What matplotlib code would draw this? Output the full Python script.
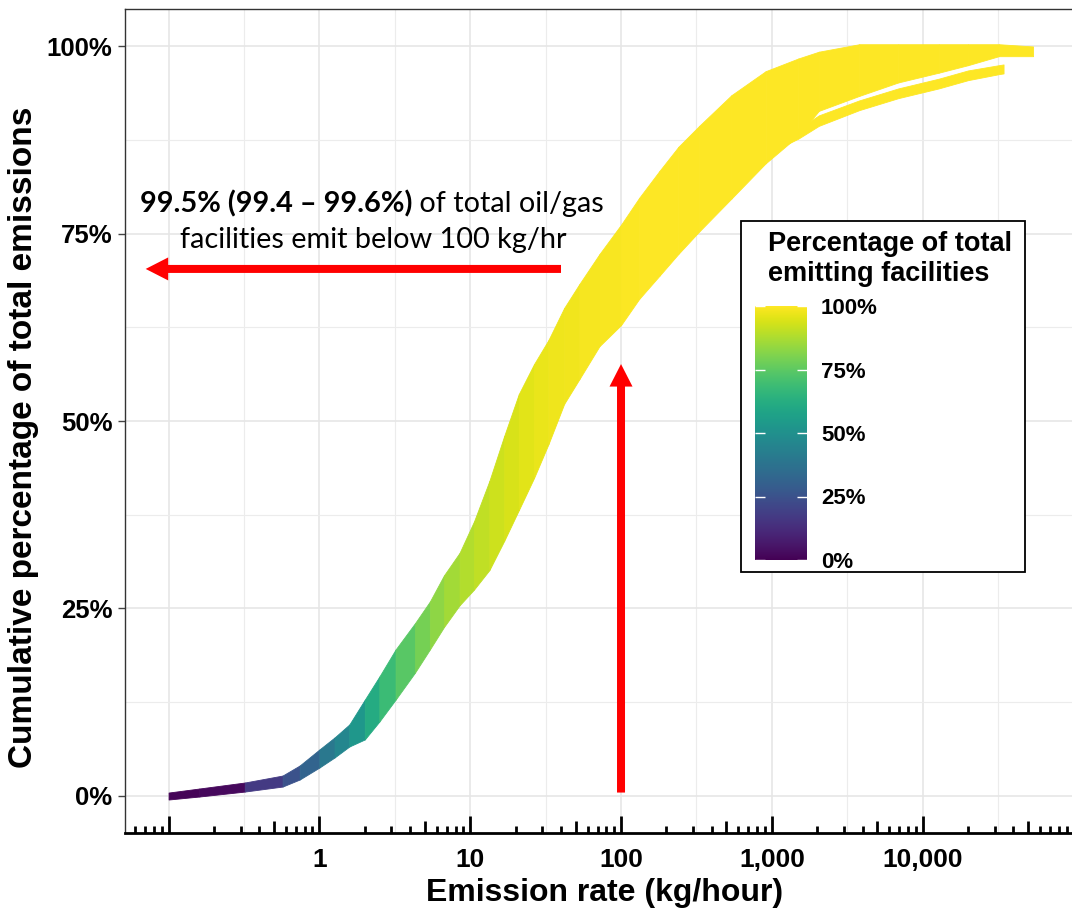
import numpy as np
import matplotlib.pyplot as plt
import matplotlib.ticker as mticker
from matplotlib.patches import Rectangle
from matplotlib.colors import Normalize
from matplotlib.cm import ScalarMappable

plt.rcParams['font.family'] = ['Liberation Sans', 'DejaVu Sans']

# === Band of cumulative curves (edges) ===
rate = [0.1, 0.16, 0.32, 0.57, 0.74, 1.0, 1.26, 1.58, 2.0, 2.5, 3.2, 4.3, 5.4, 6.7, 8.5,
        10.6, 13.4, 16.8, 21, 26.5, 33, 42, 53, 72, 100, 132, 180, 240, 330, 540, 910,
        1500, 2050, 3800, 6900, 12800, 20000, 32000, 54000]
band_top = [0.40, 0.94, 1.74, 2.67, 4.01, 6.15, 7.75, 9.49, 12.8, 15.9, 19.5, 23.0, 25.9,
            29.4, 32.4, 36.6, 42.0, 48.0, 53.6, 57.6, 60.8, 65.1, 68.3, 72.3, 76.2, 79.8,
            83.4, 86.6, 89.4, 93.5, 96.7, 98.4, 99.3, 100.3, 100.3, 100.3, 100.3, 100.3, 100.0]
band_bottom = [-0.53, -0.13, 0.53, 1.20, 2.14, 3.74, 5.08, 6.55, 7.49, 9.89, 12.8, 16.4,
               19.5, 22.5, 25.4, 27.5, 30.1, 34.0, 38.1, 42.4, 46.9, 52.3, 55.6, 60.0,
               62.8, 66.3, 69.4, 72.3, 75.3, 79.7, 84.4, 88.1, 91.4, 93.4, 95.2, 96.5,
               97.5, 98.7, 98.7]
# percentage of emitting facilities at each rate (colour of the curve)
facility_pct = [1, 2, 17, 25, 32, 40, 46, 53, 61, 68, 74, 79, 83, 86, 88.5, 90.5, 92.5,
                94, 95.5, 96.5, 97.3, 98, 98.5, 99, 99.5, 99.7, 99.8, 99.9, 100, 100,
                100, 100, 100, 100, 100, 100, 100, 100, 100]

# a few runs that split off below the main band at the high end
tail_rate = [1110, 1500, 2050, 3800, 6900, 12800, 20000, 32000, 34400]
tail_top = [88.0, 89.0, 90.8, 92.8, 94.4, 95.7, 96.8, 97.5, 97.6]
tail_bottom = [86.4, 87.7, 89.4, 91.5, 93.1, 94.4, 95.5, 96.3, 96.4]

x_ticks = [0.1, 1, 10, 100, 1000, 10000, 100000]
x_labels = ['', '1', '10', '100', '1,000', '10,000', '']
y_ticks = [0, 25, 50, 75, 100]
y_labels = ['0%', '25%', '50%', '75%', '100%']
cbar_ticks = [0, 25, 50, 75, 100]

W, H = 1072, 911
fig = plt.figure(figsize=(W / 100, H / 100), dpi=100)
ax = fig.add_axes([125 / W, 1 - 833 / H, (1084 - 125) / W, (833 - 9) / H])
ax.set_xscale('log')
ax.set_xlim(10 ** -1.289, 10 ** 5.07)
ax.set_ylim(-5, 105)

cmap = plt.get_cmap('viridis')
norm = Normalize(0, 100)

# === Grid ===
ax.set_axisbelow(True)
ax.grid(True, which='major', axis='both', color='#e6e6e6', lw=1.2)
for k in range(-2, 5):
    ax.axvline(10 ** (k + 0.5), color='#ececec', lw=0.8, zorder=0)
ax.yaxis.set_minor_locator(mticker.MultipleLocator(12.5))
ax.grid(True, which='minor', axis='y', color='#ececec', lw=0.8)

# === Band ===
for i in range(len(rate) - 1):
    c = cmap(norm(facility_pct[i]))
    ax.fill_between(rate[i:i + 2], band_bottom[i:i + 2], band_top[i:i + 2],
                    color=c, edgecolor=c, lw=0.6, zorder=3)
yel = cmap(norm(100))
ax.fill_between(tail_rate, tail_bottom, tail_top, color=yel, edgecolor=yel, lw=0.6, zorder=3)

# === Axes styling ===
ax.set_xticks(x_ticks, x_labels, fontsize=19, fontweight='bold')
ax.xaxis.set_minor_locator(mticker.LogLocator(subs=(2, 3, 4, 6, 7, 8, 9), numticks=30))
ax.xaxis.set_minor_formatter(mticker.NullFormatter())
ax.tick_params(axis='x', which='major', direction='in', length=12, width=2, color='black', pad=11)
ax.tick_params(axis='x', which='minor', direction='in', length=4.8, width=2, color='black')

sec = ax.secondary_xaxis('bottom')
sec.xaxis.set_major_locator(mticker.LogLocator(subs=(5.0,), numticks=30))
sec.xaxis.set_minor_locator(mticker.NullLocator())
sec.xaxis.set_major_formatter(mticker.NullFormatter())
sec.tick_params(axis='x', direction='in', length=9, width=2, color='black')
sec.spines['bottom'].set_visible(False)

ax.set_yticks(y_ticks, y_labels, fontsize=18.5, fontweight='bold')
ax.tick_params(axis='y', which='major', direction='out', length=5, width=1, color='#444444', pad=4)
ax.tick_params(axis='y', which='minor', length=0)

for s in ['left', 'top', 'right']:
    ax.spines[s].set_color('#333333')
    ax.spines[s].set_linewidth(1.0)
ax.spines['bottom'].set_color('black')
ax.spines['bottom'].set_linewidth(2.0)

ax.set_xlabel('Emission rate (kg/hour)', fontsize=23, fontweight='bold', labelpad=4)
ax.set_ylabel('Cumulative percentage of total emissions', fontsize=24, fontweight='bold')
ax.yaxis.set_label_coords((39 - 125) / 959, 0.48)

# === Red arrows ===
arrow_style = 'simple,head_length=0.9,head_width=0.92,tail_width=0.32'
ax.annotate('', xy=(0.0705, 70.3), xytext=(40, 70.3),
            arrowprops=dict(arrowstyle=arrow_style, color='red', mutation_scale=18,
                            shrinkA=0, shrinkB=0, lw=0), zorder=6)
ax.annotate('', xy=(100, 57.6), xytext=(100, 0.4),
            arrowprops=dict(arrowstyle=arrow_style, color='red', mutation_scale=18,
                            shrinkA=0, shrinkB=0, lw=0), zorder=6)

# === Annotation text ===
note_font = ['Lato', 'DejaVu Sans']
t1 = fig.text(140 / W, 1 - 212 / H, '99.5% (99.4 \u2013 99.6%)', family=note_font,
              fontweight='bold', fontsize=20.8, ha='left', va='baseline')
ax.annotate(' of total oil/gas', xy=(1, 0), xycoords=t1, va='bottom', ha='left',
            family=note_font, fontsize=20.8, annotation_clip=False)
fig.text(373 / W, 1 - 248 / H, 'facilities emit below 100 kg/hr', family=note_font,
         fontsize=20.8, ha='center', va='baseline')

# === Legend box with colour bar ===
fig.add_artist(Rectangle((741 / W, 1 - 572 / H), (1025 - 741) / W, (572 - 221) / H,
                         transform=fig.transFigure, facecolor='white', edgecolor='black',
                         lw=1.3, zorder=5))
fig.text(768 / W, 1 - 231 / H, 'Percentage of total\nemitting facilities', fontsize=19.5,
         fontweight='bold', ha='left', va='top', linespacing=1.2, zorder=6)
cax = fig.add_axes([755 / W, 1 - 560 / H, 52 / W, 254 / H], zorder=7)
cb = fig.colorbar(ScalarMappable(norm=norm, cmap=cmap), cax=cax)
cb.outline.set_visible(False)
cb.set_ticks(cbar_ticks)
cb.set_ticklabels([f'{v}%' for v in cbar_ticks], fontsize=16, fontweight='bold')
cax.tick_params(axis='y', direction='in', length=7, width=1, color='white', pad=10,
                left=True, right=True)

fig.savefig('out.png', dpi=100, facecolor='white')
